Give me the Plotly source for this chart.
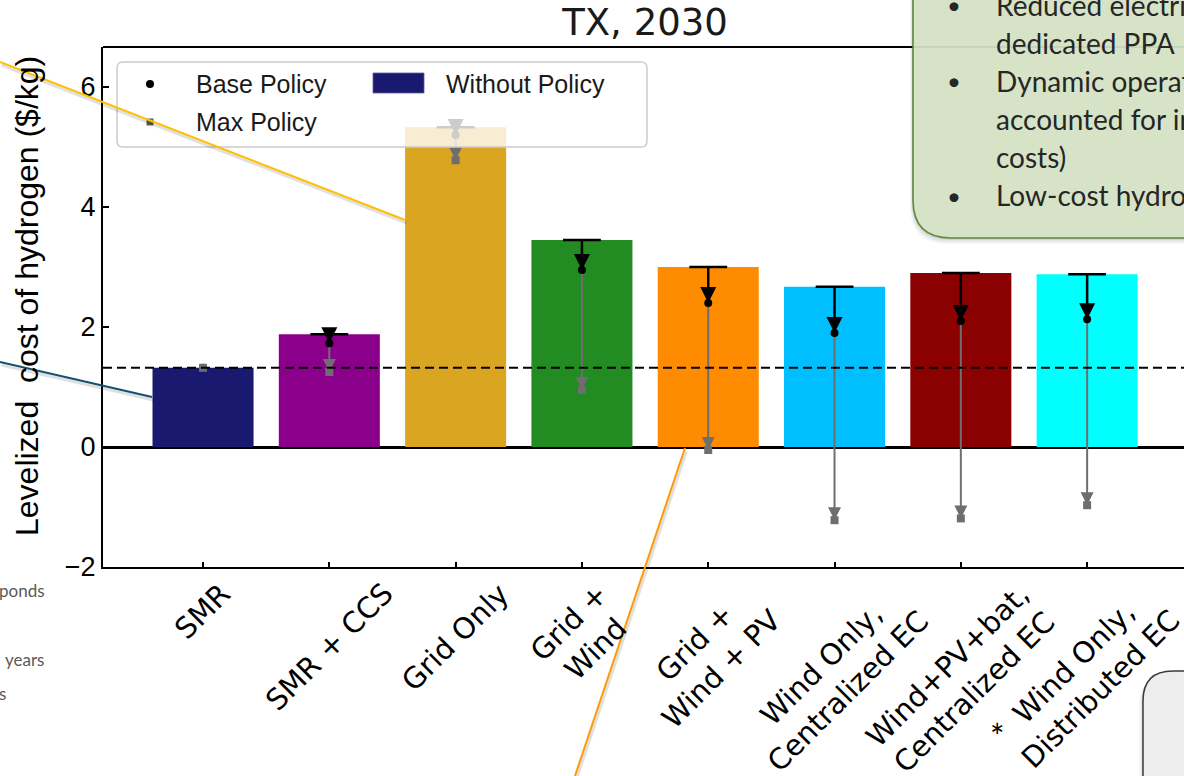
import plotly.graph_objects as go

W, H = 1184, 776

# ---- data -----------------------------------------------------------------
categories = [
    "SMR", "SMR + CCS", "Grid Only", "Grid +<br>Wind", "Grid +<br>Wind + PV",
    "Wind Only,<br>Centralized EC", "Wind+PV+bat,<br>Centralized EC",
    "Wind Only,<br>Distributed EC",
]
lcoh_without_policy = [1.32, 1.88, 5.33, 3.45, 3.00, 2.67, 2.90, 2.88]
lcoh_base_policy = [1.32, 1.73, 5.20, 2.95, 2.40, 1.90, 2.10, 2.13]
lcoh_max_policy = [1.32, 1.25, 4.78, 0.95, -0.05, -1.22, -1.19, -0.97]
bar_colors = ["#191970", "#8B008B", "#DAA520", "#228B22",
              "#FF8C00", "#00BFFF", "#8B0000", "#00FFFF"]
y_ticks = [-2, 0, 2, 4, 6]
legend_labels = ["Base Policy", "Max Policy", "Without Policy"]

note_lines = ["Reduced electricity", "dedicated PPA", "Dynamic operation",
              "accounted for in", "costs)", "Low-cost hydrogen"]
note_bullets = [True, False, True, False, False, True]
side_fragments = ["ponds", "years", "s"]

GRAY = "#6e6e6e"
pos = list(range(len(categories)))


def X(p):  # pixel -> paper x
    return p / W


def Y(p):  # pixel -> paper y
    return 1 - p / H


def rounded_path(x0, y0, x1, y1, r):
    return (f"M {X(x0 + r)},{Y(y0)} L {X(x1 - r)},{Y(y0)} "
            f"Q {X(x1)},{Y(y0)} {X(x1)},{Y(y0 + r)} L {X(x1)},{Y(y1 - r)} "
            f"Q {X(x1)},{Y(y1)} {X(x1 - r)},{Y(y1)} L {X(x0 + r)},{Y(y1)} "
            f"Q {X(x0)},{Y(y1)} {X(x0)},{Y(y1 - r)} L {X(x0)},{Y(y0 + r)} "
            f"Q {X(x0)},{Y(y0)} {X(x0 + r)},{Y(y0)} Z")


fig = go.Figure()

# bars: cost without policy
fig.add_trace(go.Bar(x=pos, y=lcoh_without_policy, width=0.8,
                     marker=dict(color=bar_colors, line=dict(width=0)),
                     name="Without Policy", showlegend=False))

# arrows: without policy -> base policy (black), base -> max policy (gray)
moved = [i for i in pos if lcoh_without_policy[i] != lcoh_base_policy[i]]
bx, by, gx, gy = [], [], [], []
for i in moved:
    bx += [i, i, None]
    by += [lcoh_without_policy[i], lcoh_base_policy[i], None]
    gx += [i, i, None]
    gy += [lcoh_base_policy[i], lcoh_max_policy[i], None]

fig.add_trace(go.Scatter(x=bx, y=by, mode="lines", line=dict(color="black", width=2.5),
                         showlegend=False, hoverinfo="skip"))
fig.add_trace(go.Scatter(x=moved, y=[lcoh_without_policy[i] for i in moved], mode="markers",
                         marker=dict(symbol="line-ew", size=27,
                                     line=dict(width=2.5, color="black")),
                         showlegend=False, hoverinfo="skip"))
fig.add_trace(go.Scatter(x=moved, y=[lcoh_base_policy[i] for i in moved], mode="markers",
                         marker=dict(symbol="arrow-down", size=16, color="black"),
                         showlegend=False, hoverinfo="skip"))
fig.add_trace(go.Scatter(x=gx, y=gy, mode="lines", line=dict(color=GRAY, width=2),
                         showlegend=False, hoverinfo="skip"))
fig.add_trace(go.Scatter(x=moved, y=[lcoh_max_policy[i] for i in moved], mode="markers",
                         marker=dict(symbol="arrow-down", size=13, color=GRAY),
                         showlegend=False, hoverinfo="skip"))
fig.add_trace(go.Scatter(x=pos, y=lcoh_base_policy, mode="markers", name="Base Policy",
                         marker=dict(symbol="circle", size=8, color="black"),
                         showlegend=False))
fig.add_trace(go.Scatter(x=pos, y=lcoh_max_policy, mode="markers", name="Max Policy",
                         marker=dict(symbol="square", size=8, color=GRAY),
                         showlegend=False))

shapes = []
# SMR reference level
shapes.append(dict(type="line", xref="x domain", x0=0, x1=1, yref="y",
                   y0=lcoh_without_policy[0], y1=lcoh_without_policy[0],
                   line=dict(color="black", width=2, dash="9px,5px"), layer="above"))
# top spine
shapes.append(dict(type="line", xref="x domain", x0=0, x1=1, yref="y domain", y0=1, y1=1,
                   line=dict(color="black", width=2), layer="above"))

# legend frame and handles
shapes.append(dict(type="path", xref="paper", yref="paper", path=rounded_path(117, 62, 647, 147, 6),
                   fillcolor="rgba(255,255,255,0.8)", line=dict(color="#cccccc", width=1.5),
                   layer="above"))
shapes.append(dict(type="circle", xref="paper", yref="paper", x0=X(146), x1=X(154),
                   y0=Y(80), y1=Y(88), fillcolor="black", line=dict(width=0), layer="above"))
shapes.append(dict(type="rect", xref="paper", yref="paper", x0=X(146.5), x1=X(153.5),
                   y0=Y(118.5), y1=Y(125.5), fillcolor="#5a5a5a", line=dict(width=0), layer="above"))
shapes.append(dict(type="rect", xref="paper", yref="paper", x0=X(373), x1=X(424),
                   y0=Y(73), y1=Y(93), fillcolor=bar_colors[0],
                   line=dict(color="#5a5aa0", width=0.8), layer="above"))

# callout connector lines (with soft shadow)
callouts = [((0, 62), (405, 220), "#FFC000"),
            ((0, 362), (152, 397), "#134f72"),
            ((575, 776), (685, 448), "#FF9a00")]
for (xa, ya), (xb, yb), col in callouts:
    shapes.append(dict(type="line", xref="paper", yref="paper",
                       x0=X(xa + 1.5), y0=Y(ya + 3), x1=X(xb + 1.5), y1=Y(yb + 3),
                       line=dict(color="rgba(0,0,0,0.12)", width=3), layer="above"))
    shapes.append(dict(type="line", xref="paper", yref="paper",
                       x0=X(xa), y0=Y(ya), x1=X(xb), y1=Y(yb),
                       line=dict(color=col, width=2), layer="above"))

# green note panel (top right)
for k, a in enumerate([0.04, 0.06, 0.08]):
    d = 6 - 2 * k
    shapes.append(dict(type="path", xref="paper", yref="paper",
                       path=rounded_path(913 - d / 2, -60 + d, 1260, 238 + d, 38),
                       fillcolor=f"rgba(0,0,0,{a})", line=dict(width=0), layer="above"))
shapes.append(dict(type="path", xref="paper", yref="paper",
                   path=rounded_path(913, -60, 1260, 238, 38),
                   fillcolor="rgba(214,228,198,0.93)", line=dict(color="#60883a", width=1.6),
                   layer="above"))

# gray panel (bottom right)
for k, a in enumerate([0.04, 0.07]):
    d = 4 - 2 * k
    shapes.append(dict(type="path", xref="paper", yref="paper",
                       path=rounded_path(1143 - d, 671 + d, 1300, 900, 30),
                       fillcolor=f"rgba(0,0,0,{a})", line=dict(width=0), layer="above"))
shapes.append(dict(type="path", xref="paper", yref="paper",
                   path=rounded_path(1143, 671, 1300, 900, 30),
                   fillcolor="#ededed", line=dict(color="#3a3a3a", width=1.5), layer="above"))

annotations = []
# category labels
for i, lab in enumerate(categories):
    annotations.append(dict(x=i, xref="x", y=Y(574), yref="paper", text=lab,
                            textangle=-45, xanchor="center", yanchor="top", showarrow=False,
                            align="center",
                            font=dict(family="DejaVu Sans", size=29, color="black")))
annotations.append(dict(x=X(1006), y=Y(758), xref="paper", yref="paper", text="*",
                        showarrow=False, font=dict(family="Lato", size=34, color="black")))
# y-axis title
annotations.append(dict(x=X(27), y=Y(296), xref="paper", yref="paper",
                        text="Levelized  cost of hydrogen ($/kg)", textangle=-90,
                        showarrow=False, xanchor="center", yanchor="middle",
                        font=dict(family="Liberation Sans", size=32, color="black")))
# legend texts
for lab, (lx, ly) in zip(legend_labels, [(194, 84), (194, 122), (444, 84)]):
    annotations.append(dict(x=X(lx), y=Y(ly), xref="paper", yref="paper", text=lab,
                            showarrow=False, xanchor="left", yanchor="middle",
                            font=dict(family="Liberation Sans", size=25, color="#1a1a1a")))
# note panel text
for k, (line, bullet) in enumerate(zip(note_lines, note_bullets)):
    cy = 5 + 38 * k
    if bullet:
        annotations.append(dict(x=X(954), y=Y(cy), xref="paper", yref="paper", text="•",
                                showarrow=False, xanchor="center", yanchor="middle",
                                font=dict(family="Lato", size=24, color="#262626")))
    annotations.append(dict(x=X(994), y=Y(cy), xref="paper", yref="paper", text=line,
                            showarrow=False, xanchor="left", yanchor="middle",
                            font=dict(family="Lato", size=28, color="#262626")))
# clipped text of neighbouring slide text box
for frag, (rx, cy) in zip(side_fragments, [(47, 590), (46, 659), (8, 693)]):
    annotations.append(dict(x=X(rx), y=Y(cy), xref="paper", yref="paper", text=frag,
                            showarrow=False, xanchor="right", yanchor="middle",
                            font=dict(family="Lato", size=17, color="#595959")))

fig.update_layout(
    width=W, height=H, margin=dict(l=0, r=0, t=0, b=0, autoexpand=False),
    paper_bgcolor="white", plot_bgcolor="white",
    bargap=0.2, showlegend=False,
    title=dict(text="TX, 2030", x=X(645), xanchor="center", y=Y(22), yanchor="middle",
               font=dict(family="DejaVu Sans", size=37, color="#1a1a1a")),
    xaxis=dict(domain=[X(103), 1], range=[-0.792, 7.767], tickvals=pos,
               showticklabels=False, ticks="inside", ticklen=5, tickwidth=1.5,
               tickcolor="black", showline=True, linecolor="black", linewidth=2,
               showgrid=False, zeroline=False, automargin=False),
    yaxis=dict(domain=[Y(567), Y(47)], range=[-2, 6.667], tickvals=y_ticks,
               ticks="inside", ticklen=6, tickwidth=1.5, tickcolor="black",
               tickfont=dict(family="Liberation Sans", size=27, color="black"),
               showline=True, linecolor="black", linewidth=2, showgrid=False,
               zeroline=True, zerolinecolor="black", zerolinewidth=2.5,
               layer="above traces", automargin=False),
    shapes=shapes, annotations=annotations,
)

fig.write_html("out.html", config={"displayModeBar": False})
